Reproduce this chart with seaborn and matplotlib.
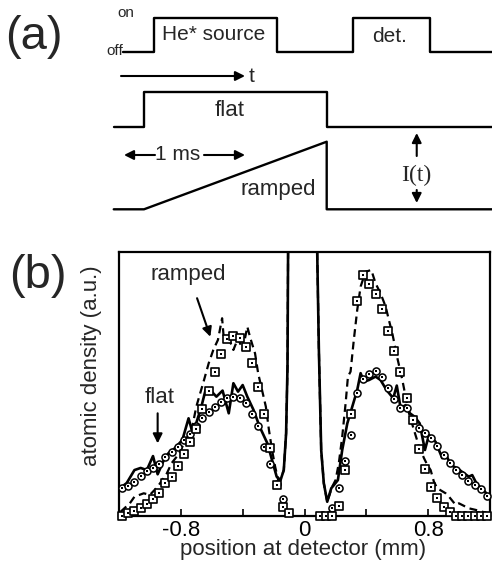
import matplotlib
matplotlib.use('Agg')
import matplotlib.pyplot as plt
import seaborn as sns

# ---------------- panel (b): atomic density vs position at detector (mm) ----------------
# measured, flat intensity (solid line)
flat_meas_x = [-1.20, -1.15, -1.10, -1.06, -1.02, -0.98, -0.95, -0.91, -0.88, -0.84, -0.79,
               -0.75, -0.73, -0.70, -0.67, -0.64, -0.60, -0.57, -0.53, -0.49, -0.46, -0.43,
               -0.40, -0.37, -0.33, -0.29, -0.24, -0.21, -0.18, -0.155, -0.134, -0.119, -0.11,
               -0.08, 0.06, 0.082, 0.093, 0.108, 0.125, 0.147, 0.173, 0.19, 0.216, 0.244,
               0.277, 0.309, 0.341, 0.363, 0.384, 0.417, 0.46, 0.492, 0.531, 0.574, 0.597,
               0.622, 0.654, 0.682, 0.712, 0.745, 0.779, 0.805, 0.848, 0.891, 0.913, 0.945,
               0.988, 1.031, 1.063, 1.085, 1.118, 1.15, 1.193]
flat_meas_y = [10.2, 12.5, 17.4, 18.2, 17.4, 22.7, 15.8, 21.2, 23.8, 25.6, 28.8,
               37.0, 32.8, 35.3, 40.8, 47.7, 47.1, 45.2, 47.5, 38.9, 50.3, 47.1,
               49.6, 45.2, 40.2, 33.8, 27.5, 21.2, 14.9, 13.6, 17.4, 31.3, 56.6,
               400, 400, 100.8, 62.9, 25.0, 12.4, 5.4, 10.5, 11.7, 13.6, 25.0,
               35.1, 41.4, 47.7, 54.1, 50.9, 51.5, 52.8, 51.5, 47.7, 44.6, 49.4,
               40.8, 42.0, 38.9, 37.6, 35.1, 25.0, 30.7, 28.1, 21.9, 23.7, 19.3,
               18.1, 16.2, 14.9, 15.5, 11.7, 10.5, 7.3]

# measured, ramped intensity (dashed line)
ramp_meas_x = [-1.19, -1.13, -1.10, -1.04, -1.00, -0.95, -0.92, -0.89, -0.86, -0.81, -0.77,
               -0.73, -0.70, -0.65, -0.62, -0.59, -0.56, -0.533, -0.523, -0.49, -0.46, -0.43,
               -0.40, -0.37, -0.35, -0.32, -0.30, -0.27, -0.25, -0.23, -0.21, -0.19, -0.17,
               -0.155, -0.134, -0.119, -0.11, -0.08, 0.06, 0.082, 0.093, 0.108, 0.125, 0.147,
               0.179, 0.201, 0.222, 0.244, 0.266, 0.281, 0.298, 0.319, 0.341, 0.363, 0.395,
               0.432, 0.46, 0.492, 0.525, 0.546, 0.568, 0.60, 0.633, 0.654, 0.676, 0.708,
               0.74, 0.773, 0.795, 0.816, 0.837, 0.859, 0.913, 0.935, 0.978, 0.999, 1.043,
               1.064, 1.108, 1.151, 1.193]
ramp_meas_y = [1.6, 4.8, 7.3, 8.6, 8.0, 11.1, 13.6, 16.2, 20.0, 23.7, 28.8,
               32.6, 41.4, 51.5, 57.8, 62.9, 66.7, 74.9, 67.9, 67.3, 62.9, 67.3,
               62.9, 71.7, 67.3, 61.6, 54.1, 46.5, 41.4, 32.6, 25.0, 18.7, 13.6,
               13.6, 17.4, 31.3, 56.6, 400, 400, 100.8, 62.9, 25.0, 12.4, 5.4,
               11.1, 13.6, 20.0, 30.0, 42.7, 52.8, 54.7, 66.7, 78.0, 86.9, 92.5,
               93.2, 88.1, 84.3, 79.3, 74.2, 69.2, 60.0, 51.5, 45.2, 38.9, 32.6,
               26.5, 21.9, 19.3, 17.4, 13.0, 10.5, 8.6, 7.3, 4.2, 4.8, 3.5,
               2.9, 2.3, 1.6, 1.0]

# calculated, flat (circles)
flat_calc_x = [-1.18, -1.14, -1.10, -1.06, -1.02, -0.98, -0.94, -0.90, -0.86, -0.82, -0.78,
               -0.74, -0.70, -0.66, -0.62, -0.58, -0.54, -0.50, -0.46, -0.42, -0.38, -0.34,
               -0.30, -0.26, -0.22, -0.18, -0.14,
               0.18, 0.22, 0.26, 0.30, 0.34, 0.38, 0.42, 0.46, 0.50, 0.54, 0.58, 0.62,
               0.66, 0.70, 0.74, 0.78, 0.82, 0.86, 0.90, 0.94, 0.98, 1.02, 1.06, 1.10,
               1.14, 1.18]
flat_calc_y = [10.5, 11.5, 13.0, 15.3, 16.9, 18.3, 19.7, 22.5, 24.1, 26.3, 28.7,
               30.9, 34.1, 37.2, 39.5, 41.4, 43.2, 44.8, 45.2, 44.6, 42.9, 38.6,
               34.1, 26.0, 19.7, 12.0, 6.3,
               2.9, 10.5, 21.0, 30.8, 46.7, 51.8, 53.8, 55.1, 52.8, 48.3, 44.2, 40.8,
               40.8, 36.4, 33.4, 31.3, 29.4, 26.6, 23.1, 20.0, 17.4, 15.5, 13.4, 11.7,
               10.1, 7.7]

# calculated, ramped (squares)
ramp_calc_x = [-1.18, -1.14, -1.10, -1.06, -1.02, -0.98, -0.94, -0.90, -0.86, -0.82, -0.78,
               -0.74, -0.70, -0.66, -0.62, -0.58, -0.54, -0.50, -0.46, -0.42, -0.38, -0.34,
               -0.30, -0.26, -0.22, -0.18, -0.14, -0.10,
               0.10, 0.14, 0.18, 0.22, 0.26, 0.30, 0.34, 0.38, 0.42, 0.46, 0.50, 0.54,
               0.58, 0.62, 0.66, 0.70, 0.74, 0.78, 0.82, 0.86, 0.90, 0.94, 0.98, 1.02,
               1.06, 1.10, 1.14, 1.18]
ramp_calc_y = [0.0, 1.0, 1.8, 2.9, 4.7, 6.4, 8.9, 12.4, 14.9, 18.8, 23.6,
               28.1, 33.0, 40.4, 47.5, 54.5, 61.4, 66.9, 68.2, 67.5, 64.1, 57.8,
               49.0, 38.5, 25.8, 11.7, 3.5, 1.0,
               0.0, 0.0, 0.0, 3.9, 17.4, 38.6, 81.6, 91.3, 87.8, 84.0, 78.4, 70.1,
               62.5, 54.4, 44.8, 36.4, 25.4, 17.7, 11.1, 6.7, 3.5, 1.6, 0.0, 0.0,
               0.0, 0.0, 0.0, 0.0]

x_ticks = [-0.8, -0.4, 0, 0.4, 0.8]
x_tick_labels = ['-0.8', '', '0', '', '0.8']

# ---------------- panel (a): timing diagram (time in ms) ----------------
src_t = [1.02, 1.27, 1.27, 2.29, 2.29, 2.92, 2.92, 3.55, 3.55, 4.07]
src_state = [0, 0, 1, 1, 0, 0, 1, 1, 0, 0]          # off / on
flat_t = [0.94, 1.19, 1.19, 2.70, 2.70, 4.07]
flat_I = [0, 0, 1, 1, 0, 0]
ramp_t = [0.94, 1.19, 2.70, 2.70, 4.07]
ramp_I = [0, 0, 1, 0, 0]

sns.set_theme(style='ticks')
plt.rcParams['font.family'] = ['Liberation Sans', 'DejaVu Sans']

fig = plt.figure(figsize=(4.92, 5.64), dpi=100)

# panel (a) - y in "pixel" rows, inverted
ax_a = fig.add_axes([0, 1 - 220 / 564, 1, 220 / 564])
ax_a.set_xlim(0, 492 / 121)
ax_a.set_ylim(220, 0)
ax_a.axis('off')

lw_a = 1.7
sns.lineplot(x=src_t, y=[51.7 - 33.4 * s for s in src_state], ax=ax_a, color='black',
             lw=lw_a, estimator=None, sort=False)
sns.lineplot(x=flat_t, y=[126.7 - 35.0 * v for v in flat_I], ax=ax_a, color='black',
             lw=lw_a, estimator=None, sort=False)
sns.lineplot(x=ramp_t, y=[209.3 - 67.6 * v for v in ramp_I], ax=ax_a, color='black',
             lw=lw_a, estimator=None, sort=False)

arrow_kw = dict(arrowstyle='-|>', color='black', lw=1.5, mutation_scale=14,
                shrinkA=0, shrinkB=0)
ax_a.annotate('', xy=(245 / 121, 76), xytext=(121 / 121, 76), arrowprops=arrow_kw)
ax_a.annotate('', xy=(124 / 121, 155), xytext=(155 / 121, 155), arrowprops=arrow_kw)
ax_a.annotate('', xy=(245 / 121, 155), xytext=(204 / 121, 155), arrowprops=arrow_kw)
ax_a.annotate('', xy=(3.444, 133), xytext=(3.444, 156), arrowprops=arrow_kw)
ax_a.annotate('', xy=(3.444, 203), xytext=(3.444, 190), arrowprops=arrow_kw)

ax_a.text(126 / 121, 13, 'on', fontsize=11, ha='center', va='center')
ax_a.text(123 / 121, 51, 'off', fontsize=11, ha='right', va='center')
ax_a.text(214 / 121, 34, 'He* source', fontsize=15, ha='center', va='center')
ax_a.text(390 / 121, 37, 'det.', fontsize=15, ha='center', va='center')
ax_a.text(249 / 121, 76, 't', fontsize=15, ha='left', va='center')
ax_a.text(230 / 121, 111, 'flat', fontsize=16, ha='center', va='center')
ax_a.text(278 / 121, 189, 'ramped', fontsize=16, ha='center', va='center')
ax_a.text(178 / 121, 154, '1 ms', fontsize=15, ha='center', va='center')
ax_a.text(3.444, 175, 'I(t)', fontsize=17, ha='center', va='center',
          family=['Liberation Serif', 'DejaVu Serif'])

fig.text(34 / 492, 1 - 37 / 564, '(a)', fontsize=34, ha='center', va='center')
fig.text(38 / 492, 1 - 276 / 564, '(b)', fontsize=34, ha='center', va='center')

# panel (b)
ax_b = fig.add_axes([119 / 492, 48 / 564, 371 / 492, 264 / 564])
sns.lineplot(x=flat_meas_x, y=flat_meas_y, ax=ax_b, color='black', lw=1.9,
             estimator=None, sort=False)
sns.lineplot(x=ramp_meas_x, y=ramp_meas_y, ax=ax_b, color='black', lw=1.6,
             estimator=None, sort=False)
ax_b.lines[-1].set_dashes([3.5, 2.2])

sns.scatterplot(x=flat_calc_x, y=flat_calc_y, ax=ax_b, marker='o', s=26, color='white',
                edgecolor='black', linewidth=1.1, zorder=3, clip_on=False)
sns.scatterplot(x=flat_calc_x, y=flat_calc_y, ax=ax_b, marker='s', s=1.6, color='black',
                linewidth=0, zorder=4, clip_on=False)
sns.scatterplot(x=ramp_calc_x, y=ramp_calc_y, ax=ax_b, marker='s', s=32, color='white',
                edgecolor='black', linewidth=1.2, zorder=5, clip_on=False)
sns.scatterplot(x=ramp_calc_x, y=ramp_calc_y, ax=ax_b, marker='s', s=1.6, color='black',
                linewidth=0, zorder=6, clip_on=False)

ax_b.set_xlim(-1.2, 1.2)
ax_b.set_ylim(0, 100)
ax_b.set_xticks(x_ticks)
ax_b.set_xticklabels(x_tick_labels)
ax_b.set_yticks([])
ax_b.tick_params(axis='x', direction='in', length=5, width=1.2, labelsize=16, pad=3,
                 colors='black')
for sp in ax_b.spines.values():
    sp.set_visible(True)
    sp.set_linewidth(1.6)
    sp.set_color('black')

ax_b.set_xlabel('position at detector (mm)', fontsize=16)
ax_b.xaxis.set_label_coords(0.496, -0.088)
ax_b.set_ylabel('atomic density (a.u.)', fontsize=16)
ax_b.yaxis.set_label_coords(-0.045, 0.57)

ax_b.text(-0.755, 91.3, 'ramped', fontsize=16, ha='center', va='center')
ax_b.annotate('', xy=(-0.609, 67.9), xytext=(-0.695, 82.5), arrowprops=arrow_kw)
ax_b.text(-0.939, 44.7, 'flat', fontsize=16, ha='center', va='center')
ax_b.annotate('', xy=(-0.95, 27.5), xytext=(-0.95, 38.9), arrowprops=arrow_kw)

fig.savefig('out.png', dpi=100)
